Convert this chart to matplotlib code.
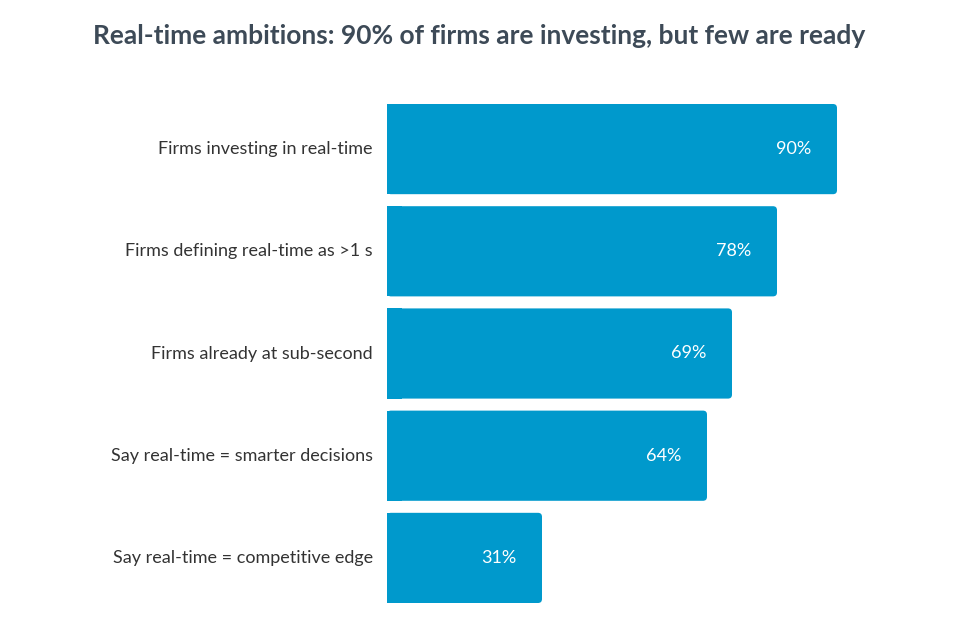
import matplotlib; matplotlib.use("Agg"); import matplotlib.pyplot as plt
from matplotlib.patches import FancyBboxPatch
plt.rcParams.update({"font.family":"Lato"})

categories=["Firms investing in real-time","Firms defining real-time as >1 s","Firms already at sub-second",
            "Say real-time = smarter decisions","Say real-time = competitive edge"]
values=[90,78,69,64,31]
value_labels=["90%","78%","69%","64%","31%"]

BLUE="#0099CC"
fig=plt.figure(figsize=(9.62,6.19),dpi=100)
ax=fig.add_axes([387/962,16/619,500/962,499/619])
ax.set_xlim(0,100); h=90/102; ax.set_ylim(4+h/2,-h/2); ax.axis("off")
asp=(1/102)/(1/5)
for i,(v,lab) in enumerate(zip(values,value_labels)):
    ax.add_patch(FancyBboxPatch((0,i-h/2),v,h,boxstyle="round,pad=0,rounding_size=0.8",
                 mutation_aspect=asp,fc=BLUE,ec="none"))
    ax.barh(i,3,left=0,height=h,color=BLUE)
    ax.text(v-5.2,i,lab,ha="right",va="center",color="white",fontsize=13)
    ax.annotate(categories[i],(0,i),xytext=(-14,0),textcoords="offset pixels",ha="right",va="center",
                fontsize=13,color="#333333")
fig.text(479/962,1-36/619,"Real-time ambitions: 90% of firms are investing, but few are ready",ha="center",va="center",
         fontsize=19,fontweight="bold",color="#3d4a57")
fig.savefig("out.png",dpi=100)
